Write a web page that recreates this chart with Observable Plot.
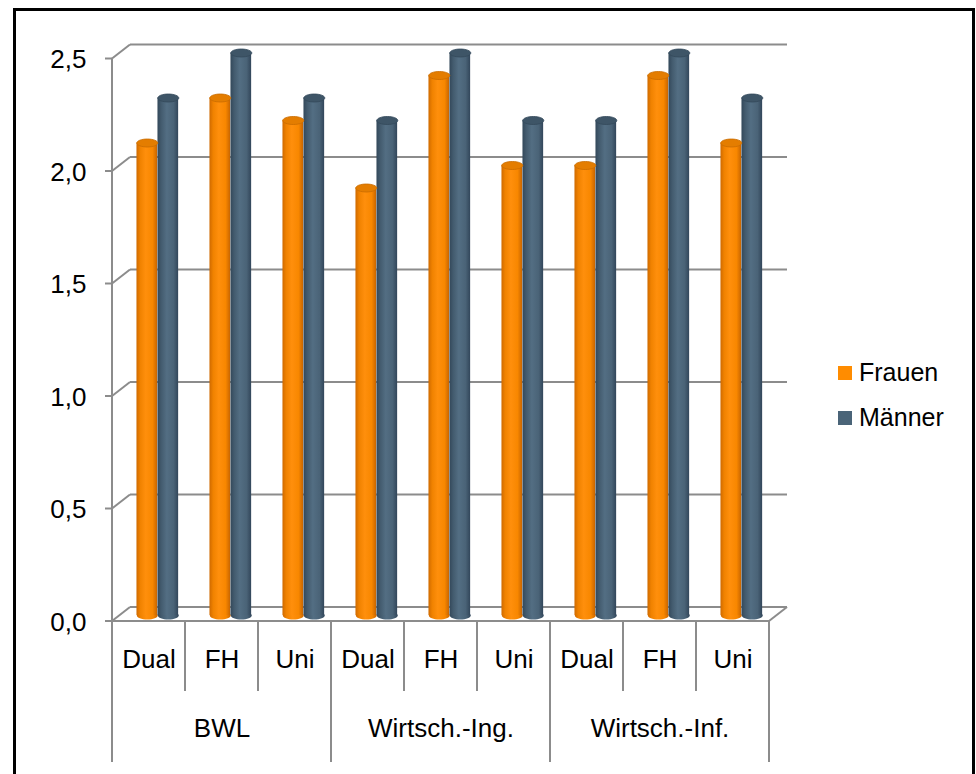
<!DOCTYPE html>
<html><head><meta charset="utf-8">
<script src="https://cdn.jsdelivr.net/npm/d3@7"></script>
<script src="https://cdn.jsdelivr.net/npm/@observablehq/plot@0.6"></script>
<style>
body{margin:0;background:#fff;}
#wrap{position:relative;width:976px;height:774px;overflow:hidden;font-family:"Liberation Sans",Arial,sans-serif;background:#fff;}
#chart{position:absolute;left:0;top:0;}
#border{position:absolute;left:13px;top:8px;width:956px;height:800px;border:3px solid #000;pointer-events:none;}
#legend{position:absolute;left:838px;top:350px;font-size:25px;color:#000;}
.item{display:flex;align-items:center;height:45px;}
.sw{width:14px;height:14px;margin-right:7px;}
</style></head><body>
<div id="wrap"><div id="chart"></div><div id="legend"></div><div id="border"></div></div>
<script>
const groups = ["BWL", "Wirtsch.-Ing.", "Wirtsch.-Inf."];
const types = ["Dual", "FH", "Uni"];
const seriesNames = ["Frauen", "Männer"];
const frauen = [2.1, 2.3, 2.2, 1.9, 2.4, 2.0, 2.0, 2.4, 2.1];
const maenner = [2.3, 2.5, 2.3, 2.2, 2.5, 2.2, 2.2, 2.5, 2.3];
const yTicks = [0, 0.5, 1.0, 1.5, 2.0, 2.5];

const colors = {Frauen: "#FF8C00", "Männer": "#4A6478"};

const cats = [];
groups.forEach(g => types.forEach(t => cats.push({key: g + "|" + t, group: g, type: t})));
const keys = cats.map(c => c.key);
const rows = [];
cats.forEach((c, i) => {
  rows.push({...c, series: "Frauen", value: frauen[i]});
  rows.push({...c, series: "Männer", value: maenner[i]});
});
const fRows = rows.filter(r => r.series === "Frauen");
const mRows = rows.filter(r => r.series === "Männer");
const groupRows = groups.map(g => ({group: g, key: g + "|" + types[1]}));

const fmt = d => d.toFixed(1).replace(".", ",");

// 3D styling constants
const DX = 18, FRONT = 6, BACK = -8;
const W = 976, H = 774, ML = 110, MR = 206;
const BW = (W - ML - MR) / keys.length;
const BARW = 21;
const INSET = (BW - BARW) / 2;
const OFF_F = -1.7, OFF_M = 19.3;
const FS = 26;

function ellipse(rx, ry) {
  const k = 0.5523;
  return {draw(ctx) {
    ctx.moveTo(rx, 0);
    ctx.bezierCurveTo(rx, ry * k, rx * k, ry, 0, ry);
    ctx.bezierCurveTo(-rx * k, ry, -rx, ry * k, -rx, 0);
    ctx.bezierCurveTo(-rx, -ry * k, -rx * k, -ry, 0, -ry);
    ctx.bezierCurveTo(rx * k, -ry, rx, -ry * k, rx, 0);
    ctx.closePath();
  }};
}
const cap = ellipse(BARW / 2, 4);

function frame(index, scales) {
  const {x, y} = scales;
  const ns = "http://www.w3.org/2000/svg";
  const g = document.createElementNS(ns, "g");
  g.setAttribute("stroke", "#8c8c8c");
  g.setAttribute("stroke-width", "2");
  g.setAttribute("fill", "none");
  const line = (x1, y1, x2, y2) => {
    const l = document.createElementNS(ns, "line");
    l.setAttribute("x1", x1); l.setAttribute("y1", y1);
    l.setAttribute("x2", x2); l.setAttribute("y2", y2);
    g.appendChild(l);
  };
  const bw = x(keys[1]) - x(keys[0]);
  const xL = x(keys[0]), xR = x(keys[keys.length - 1]) + bw;
  for (const v of yTicks) {
    const yb = y(v) + BACK, yf = y(v) + FRONT;
    line(xL + DX, yb, xR + DX, yb);
    line(xL, yf, xL + DX, yb);
    line(xL - 7, yf, xL, yf);
  }
  const y0f = y(0) + FRONT;
  line(xL, y0f, xL, y(yTicks[yTicks.length - 1]) + FRONT);
  line(xL, y0f, xR, y0f);
  line(xR, y0f, xR + DX, y(0) + BACK);
  keys.forEach((k, i) => line(x(k), y0f, x(k), y0f + (i % 3 === 0 ? 141 : 70)));
  line(xR, y0f, xR, y0f + 141);
  return g;
}

const svg = Plot.plot({
  width: W, height: H,
  marginLeft: ML, marginRight: MR, marginTop: 52.5, marginBottom: 159,
  style: {background: "transparent", fontFamily: "'Liberation Sans', Arial, sans-serif", overflow: "visible", color: "#000"},
  x: {type: "band", domain: keys, padding: 0, axis: null},
  y: {domain: [0, 2.5], axis: null},
  marks: [
    frame,
    // bottoms
    Plot.dot(fRows, {x: "key", y: 0, symbol: cap, fill: "url(#gF)", stroke: "none", dx: OFF_F}),
    Plot.dot(mRows, {x: "key", y: 0, symbol: cap, fill: "url(#gM)", stroke: "none", dx: OFF_M}),
    // bodies
    Plot.barY(fRows, {x: "key", y: "value", fill: "url(#gF)", insetLeft: INSET, insetRight: INSET, dx: OFF_F}),
    Plot.barY(mRows, {x: "key", y: "value", fill: "url(#gM)", insetLeft: INSET, insetRight: INSET, dx: OFF_M}),
    // tops
    Plot.dot(fRows, {x: "key", y: "value", symbol: cap, fill: "#E47D00", stroke: "#C96C00", strokeWidth: 0.8, dx: OFF_F}),
    Plot.dot(mRows, {x: "key", y: "value", symbol: cap, fill: "#3E5567", stroke: "#34495A", strokeWidth: 0.8, dx: OFF_M}),
    // y labels
    Plot.text(yTicks, {y: d => d, text: d => fmt(d), frameAnchor: "left", textAnchor: "end", dx: -24, dy: FRONT + 1, fontSize: FS, fill: "#000"}),
    // category labels
    Plot.text(cats, {x: "key", text: "type", frameAnchor: "bottom", dy: 52, fontSize: FS, fill: "#000"}),
    Plot.text(groupRows, {x: "key", text: "group", frameAnchor: "bottom", dy: 121, fontSize: FS, fill: "#000"})
  ]
});

const defs = document.createElementNS("http://www.w3.org/2000/svg", "defs");
defs.innerHTML = `
<linearGradient id="gF" x1="0" x2="1" y1="0" y2="0">
  <stop offset="0" stop-color="#CF6A00"/>
  <stop offset="0.18" stop-color="#F08200"/>
  <stop offset="0.45" stop-color="#FF8F0C"/>
  <stop offset="0.78" stop-color="#F88700"/>
  <stop offset="1" stop-color="#C86500"/>
</linearGradient>
<linearGradient id="gM" x1="0" x2="1" y1="0" y2="0">
  <stop offset="0" stop-color="#33485A"/>
  <stop offset="0.18" stop-color="#435B6E"/>
  <stop offset="0.45" stop-color="#536E83"/>
  <stop offset="0.78" stop-color="#4A6377"/>
  <stop offset="1" stop-color="#32465A"/>
</linearGradient>`;
svg.insertBefore(defs, svg.firstChild);
document.getElementById("chart").appendChild(svg);

const legend = document.getElementById("legend");
seriesNames.forEach(s => {
  const item = document.createElement("div");
  item.className = "item";
  const sw = document.createElement("span");
  sw.className = "sw";
  sw.style.background = colors[s];
  const label = document.createElement("span");
  label.textContent = s;
  item.appendChild(sw);
  item.appendChild(label);
  legend.appendChild(item);
});
</script>
</body></html>
